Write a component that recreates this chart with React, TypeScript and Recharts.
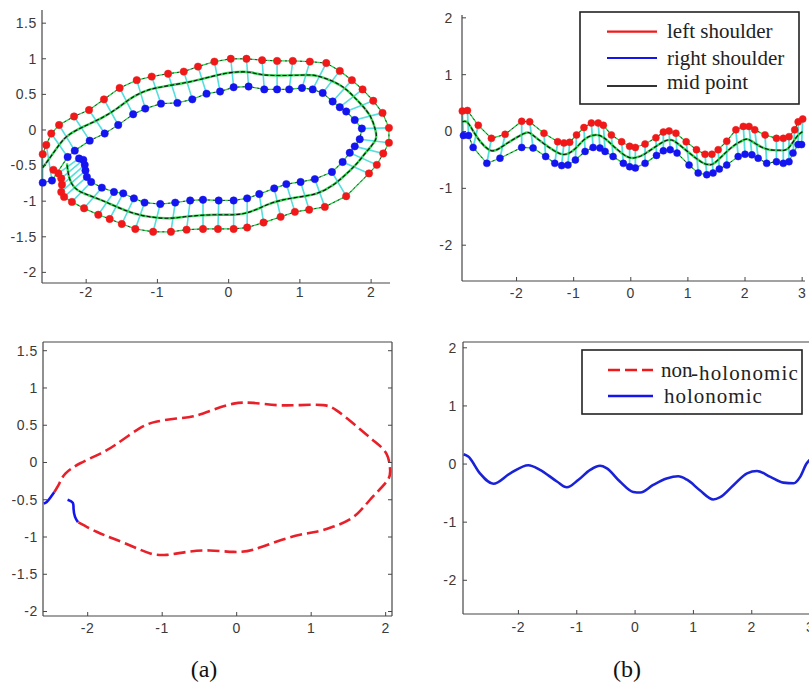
import React from 'react';
import { ComposedChart, Line, XAxis, YAxis, Legend } from 'recharts';

type Pt = [number, number];
type Row = { x: number; y: number | null };

// ---------- (a) top: shoulder trajectories (closed loop) ----------
const aLeftShoulder: Pt[] = [
  [-2.61, -0.34], [-2.56, -0.21], [-2.49, -0.05], [-2.38, 0.07], [-2.17, 0.19], [-1.96, 0.28],
  [-1.75, 0.43], [-1.53, 0.59], [-1.29, 0.7], [-1.08, 0.75], [-0.85, 0.79], [-0.63, 0.82],
  [-0.43, 0.89], [-0.2, 0.96], [0.03, 1.0], [0.25, 1.0], [0.47, 0.98], [0.68, 0.97],
  [0.9, 0.97], [1.14, 0.96], [1.37, 0.94], [1.56, 0.83], [1.73, 0.7], [1.88, 0.57],
  [2.03, 0.41], [2.16, 0.24], [2.25, 0.03], [2.25, -0.18], [2.17, -0.33], [2.08, -0.49],
  [1.97, -0.61], [1.65, -0.93], [1.35, -1.08], [1.13, -1.12], [0.93, -1.15], [0.73, -1.22],
  [0.49, -1.3], [0.26, -1.37], [0.07, -1.39], [-0.15, -1.39], [-0.36, -1.39], [-0.59, -1.4],
  [-0.81, -1.43], [-1.06, -1.43], [-1.31, -1.39], [-1.5, -1.32], [-1.67, -1.25], [-1.83, -1.19],
  [-2.03, -1.1], [-2.2, -1.01], [-2.31, -0.94], [-2.35, -0.87], [-2.34, -0.77], [-2.35, -0.68],
  [-2.39, -0.61], [-2.46, -0.56],
];
const aRightShoulder: Pt[] = [
  [-2.61, -0.74], [-2.48, -0.71], [-2.26, -0.38], [-2.16, -0.29], [-1.95, -0.15], [-1.74, -0.05],
  [-1.55, 0.07], [-1.34, 0.22], [-1.17, 0.3], [-0.95, 0.37], [-0.72, 0.38], [-0.51, 0.43],
  [-0.31, 0.51], [-0.12, 0.54], [0.07, 0.6], [0.28, 0.61], [0.5, 0.57], [0.68, 0.57],
  [0.85, 0.57], [1.03, 0.59], [1.18, 0.57], [1.32, 0.52], [1.46, 0.4], [1.56, 0.32],
  [1.65, 0.26], [1.77, 0.14], [1.87, 0.02], [1.84, -0.13], [1.77, -0.23], [1.7, -0.32],
  [1.6, -0.45], [1.45, -0.59], [1.21, -0.69], [1.01, -0.73], [0.81, -0.76], [0.64, -0.82],
  [0.43, -0.9], [0.26, -0.96], [0.07, -0.99], [-0.14, -0.99], [-0.36, -0.98], [-0.54, -0.99],
  [-0.75, -1.02], [-0.96, -1.04], [-1.18, -1.02], [-1.33, -0.96], [-1.48, -0.89], [-1.61, -0.87],
  [-1.78, -0.81], [-1.93, -0.73], [-1.99, -0.66], [-2.01, -0.57], [-2.02, -0.49], [-2.04, -0.42],
  [-2.1, -0.4],
];
const aMidPoint: Pt[] = [
  [-2.61, -0.53], [-2.43, -0.28], [-2.27, -0.09], [-2.03, 0.05], [-1.8, 0.16], [-1.57, 0.3],
  [-1.33, 0.47], [-1.1, 0.57], [-0.86, 0.62], [-0.63, 0.66], [-0.4, 0.71], [-0.16, 0.77],
  [0.07, 0.81], [0.3, 0.81], [0.54, 0.77], [1.0, 0.77], [1.24, 0.76], [1.47, 0.68],
  [1.66, 0.56], [1.85, 0.37], [1.99, 0.19], [2.06, 0.0], [2.06, -0.14], [1.94, -0.3],
  [1.8, -0.47], [1.66, -0.61], [1.47, -0.77], [1.24, -0.89], [1.0, -0.94], [0.77, -0.98],
  [0.54, -1.05], [0.3, -1.15], [0.07, -1.19], [-0.16, -1.19], [-0.4, -1.2], [-0.63, -1.22],
  [-0.86, -1.24], [-1.1, -1.22], [-1.33, -1.17], [-1.57, -1.08], [-1.8, -0.98], [-2.03, -0.89],
  [-2.17, -0.8], [-2.24, -0.66], [-2.27, -0.47],
];

// ---------- (b) top: shoulder trajectories (wavy path) ----------
const bLeftShoulder: Pt[] = [
  [-2.95, 0.36], [-2.86, 0.37], [-2.67, 0.11], [-2.44, -0.12], [-2.2, -0.05], [-1.91, 0.18],
  [-1.77, 0.17], [-1.52, -0.03], [-1.28, -0.18], [-1.17, -0.2], [-1.07, -0.19], [-0.95, -0.06],
  [-0.82, 0.07], [-0.69, 0.15], [-0.57, 0.15], [-0.48, 0.11], [-0.34, -0.06], [-0.16, -0.18],
  [-0.02, -0.26], [0.08, -0.28], [0.25, -0.22], [0.44, -0.11], [0.57, -0.01], [0.67, 0.01],
  [0.79, -0.03], [0.97, -0.18], [1.15, -0.32], [1.3, -0.4], [1.42, -0.4], [1.53, -0.32],
  [1.68, -0.17], [1.84, 0.03], [1.97, 0.09], [2.07, 0.09], [2.17, 0.03], [2.35, -0.06],
  [2.55, -0.12], [2.67, -0.12], [2.77, -0.09], [2.87, 0.03], [2.93, 0.17], [3.01, 0.22],
];
const bRightShoulder: Pt[] = [
  [-2.93, -0.07], [-2.84, -0.07], [-2.76, -0.28], [-2.52, -0.56], [-2.29, -0.47], [-1.91, -0.28],
  [-1.71, -0.29], [-1.49, -0.44], [-1.33, -0.56], [-1.21, -0.6], [-1.1, -0.59], [-0.97, -0.5],
  [-0.8, -0.35], [-0.66, -0.28], [-0.54, -0.29], [-0.45, -0.35], [-0.31, -0.44], [-0.13, -0.56],
  [-0.02, -0.62], [0.08, -0.64], [0.25, -0.56], [0.45, -0.42], [0.57, -0.34], [0.69, -0.32],
  [0.81, -0.38], [1.02, -0.59], [1.18, -0.73], [1.33, -0.76], [1.44, -0.73], [1.55, -0.66],
  [1.68, -0.59], [1.88, -0.44], [2.0, -0.4], [2.12, -0.41], [2.23, -0.47], [2.38, -0.56],
  [2.55, -0.53], [2.67, -0.56], [2.77, -0.53], [2.84, -0.38], [2.93, -0.23], [2.99, -0.23],
];
const bMidPoint: Pt[] = [
  [-2.95, 0.17], [-2.85, 0.15], [-2.69, -0.1], [-2.46, -0.33], [-2.23, -0.25], [-1.88, -0.04],
  [-1.72, -0.06], [-1.5, -0.23], [-1.24, -0.39], [-1.08, -0.38], [-0.95, -0.28], [-0.8, -0.13],
  [-0.62, -0.06], [-0.47, -0.11], [-0.3, -0.26], [-0.07, -0.44], [0.08, -0.46], [0.25, -0.39],
  [0.57, -0.18], [0.7, -0.15], [0.82, -0.21], [1.21, -0.52], [1.37, -0.58], [1.47, -0.55],
  [1.74, -0.3], [1.97, -0.15], [2.1, -0.16], [2.35, -0.3], [2.6, -0.33], [2.75, -0.3],
  [2.9, -0.1], [3.01, 0.0],
];

// ---------- (a) bottom: holonomic / non-holonomic segments ----------
const cHoloStart: Pt[] = [[-2.59, -0.55], [-2.55, -0.53], [-2.5, -0.47], [-2.45, -0.4]];
const cNonHolo: Pt[] = [
  [-2.45, -0.4], [-2.38, -0.28], [-2.3, -0.15], [-2.1, -0.01], [-1.83, 0.12], [-1.61, 0.25],
  [-1.3, 0.46], [-1.07, 0.55], [-0.81, 0.59], [-0.58, 0.62], [-0.31, 0.71], [-0.04, 0.79],
  [0.22, 0.8], [0.54, 0.77], [0.85, 0.77], [1.16, 0.77], [1.34, 0.7], [1.57, 0.52],
  [1.83, 0.3], [2.01, 0.12], [2.06, -0.1], [2.01, -0.26], [1.79, -0.5], [1.57, -0.73],
  [1.3, -0.86], [1.07, -0.93], [0.85, -0.97], [0.54, -1.06], [0.22, -1.17], [-0.04, -1.2],
  [-0.36, -1.18], [-0.67, -1.2], [-0.94, -1.24], [-1.16, -1.22], [-1.39, -1.13], [-1.66, -1.02],
  [-1.88, -0.93], [-2.13, -0.8],
];
const cHoloEnd: Pt[] = [[-2.13, -0.8], [-2.17, -0.73], [-2.19, -0.62], [-2.2, -0.54], [-2.27, -0.5]];

// ---------- (b) bottom: holonomic path ----------
const dHolo: Pt[] = [
  [-2.94, 0.17], [-2.86, 0.13], [-2.66, -0.16], [-2.43, -0.34], [-2.14, -0.16], [-1.83, -0.02],
  [-1.63, -0.1], [-1.34, -0.3], [-1.17, -0.4], [-0.97, -0.27], [-0.77, -0.1], [-0.6, -0.03],
  [-0.49, -0.07], [-0.26, -0.3], [-0.03, -0.48], [0.09, -0.49], [0.31, -0.36], [0.54, -0.25],
  [0.74, -0.21], [0.89, -0.27], [1.11, -0.45], [1.34, -0.61], [1.46, -0.57], [1.69, -0.36],
  [1.92, -0.16], [2.09, -0.12], [2.32, -0.22], [2.54, -0.32], [2.72, -0.33], [2.83, -0.22],
  [2.94, 0.01], [3.0, 0.08],
];

// ---------- ticks, labels ----------
const aTicksX = [-2, -1, 0, 1, 2];
const aTicksY = [-2, -1.5, -1, -0.5, 0, 0.5, 1, 1.5];
const bTicksX = [-2, -1, 0, 1, 2, 3];
const bTicksY = [-2, -1, 0, 1, 2];
const legendTopLabels = ['left shoulder', 'right shoulder', 'mid point'];
const legendBottomLabels = ['non-holonomic', 'holonomic'];
const captions = ['(a)', '(b)'];

// ---------- styles ----------
const SERIF = '"Liberation Serif", "Times New Roman", Times, serif';
const SANS = '"Liberation Sans", Arial, Helvetica, sans-serif';
const AXIS = '#464646';
const TICK_TEXT = '#3a3a3a';
const TICK = 4;
const RED = '#f01818';
const BLUE = '#1414f0';
const GREEN = '#2fd04f';
const CYAN = '#55dede';
const axisLine = { stroke: AXIS, strokeWidth: 1.2 };

const toRows = (pts: Pt[]): Row[] => pts.map(([x, y]) => ({ x, y }));
const toConnectors = (a: Pt[], b: Pt[]): Row[] => {
  const rows: Row[] = [];
  const n = Math.min(a.length, b.length);
  for (let i = 0; i < n; i++) {
    rows.push({ x: a[i][0], y: a[i][1] }, { x: b[i][0], y: b[i][1] }, { x: b[i][0], y: null });
  }
  return rows;
};

const base = {
  dataKey: 'y',
  isAnimationActive: false,
  activeDot: false,
  legendType: 'none' as const,
  connectNulls: false,
};

const leftTick = (margin: number) => (p: any) => {
  const ax = p.x + margin;
  return (
    <g>
      <line x1={ax} x2={ax + TICK} y1={p.y} y2={p.y} stroke={AXIS} strokeWidth={1} />
      <text x={p.x} y={p.y} dy="0.35em" textAnchor="end" fontFamily={SANS} fontSize={14}
        letterSpacing={0.6} fill={TICK_TEXT}>{String(p.payload.value)}</text>
    </g>
  );
};
const bottomTick = (margin: number) => (p: any) => {
  const ay = p.y - margin;
  return (
    <g>
      <line x1={p.x} x2={p.x} y1={ay} y2={ay - TICK} stroke={AXIS} strokeWidth={1} />
      <text x={p.x} y={p.y} dy="0.71em" textAnchor="middle" fontFamily={SANS} fontSize={14}
        letterSpacing={0.6} fill={TICK_TEXT}>{String(p.payload.value)}</text>
    </g>
  );
};
// frame axes have height/width 1: their line sits on the plot edge
const topTick = (p: any) => (
  <line x1={p.x} x2={p.x} y1={p.y} y2={p.y + TICK} stroke={AXIS} strokeWidth={1} />
);
const rightTick = (p: any) => (
  <line x1={p.x} x2={p.x - TICK} y1={p.y} y2={p.y} stroke={AXIS} strokeWidth={1} />
);

const shoulderPath = (id: string, pts: Pt[]) => {
  const rows = toRows(pts);
  return [
    <Line key={id + '-g'} {...base} data={rows} type="linear" stroke={GREEN} strokeWidth={1.3} dot={false} />,
    <Line key={id + '-k'} {...base} data={rows} type="linear" stroke="#222" strokeWidth={0.8}
      strokeDasharray="2 3" dot={false} />,
  ];
};
const shoulderDots = (id: string, pts: Pt[], color: string, r: number) => (
  <Line key={id + '-d'} {...base} data={toRows(pts)} type="linear" stroke="none"
    dot={{ r, fill: color, stroke: color, strokeWidth: 0.5 }} />
);
const midPath = (id: string, pts: Pt[]) => {
  const rows = toRows(pts);
  return [
    <Line key={id + '-mg'} {...base} data={rows} type="natural" stroke={GREEN} strokeWidth={2.4} dot={false} />,
    <Line key={id + '-mk'} {...base} data={rows} type="natural" stroke="#111" strokeWidth={1.1}
      strokeDasharray="4 2" dot={false} />,
  ];
};

const TopLegend = () => {
  const colors = [RED, BLUE, '#333'];
  const lineY = [20.7, 47, 75];
  const textY = [27, 53.5, 77.5];
  return (
    <svg width={222} height={95} style={{ display: 'block' }}>
      <rect x={1} y={1} width={219} height={92} fill="#fff" stroke="#222" strokeWidth={1.6} />
      {legendTopLabels.map((label, i) => (
        <g key={label}>
          <line x1={28} x2={78} y1={lineY[i]} y2={lineY[i]} stroke={colors[i]} strokeWidth={2.2} />
          <text x={88} y={textY[i]} fontFamily={SERIF} fontSize={21} fill="#222">{label}</text>
        </g>
      ))}
    </svg>
  );
};

const BottomLegend = () => {
  const [nonHolo, holo] = legendBottomLabels;
  const head = nonHolo.slice(0, 3);
  const tail = nonHolo.slice(3);
  return (
    <svg width={224} height={67} style={{ display: 'block' }}>
      <rect x={1} y={1} width={220} height={64} fill="#fff" stroke="#222" strokeWidth={1.6} />
      <line x1={27} x2={72} y1={21} y2={21} stroke={RED} strokeWidth={2.4} strokeDasharray="12 5" />
      <text x={80} y={28} fontFamily={SERIF} fontSize={21} fill="#222">{head}</text>
      <text x={110} y={31} fontFamily={SERIF} fontSize={21} letterSpacing={1.1} fill="#222">{tail}</text>
      <line x1={27} x2={72} y1={47} y2={47} stroke={BLUE} strokeWidth={2.4} />
      <text x={83} y={54} fontFamily={SERIF} fontSize={21} letterSpacing={1.0} fill="#222">{holo}</text>
    </svg>
  );
};

export default function App() {
  const connA = toConnectors(aLeftShoulder, aRightShoulder);
  const connB = toConnectors(bLeftShoulder, bRightShoulder);

  return (
    <div style={{ position: 'absolute', left: 0, top: 0, width: 809, height: 686, overflow: 'hidden', background: '#fff' }}>
      {/* (a) top */}
      <div style={{ position: 'absolute', left: 0, top: 0 }}>
        <ComposedChart width={400} height={300} margin={{ top: 10, right: 10, bottom: 0, left: 0 }}>
          <XAxis type="number" dataKey="x" domain={[-2.62, 2.265]} ticks={aTicksX} interval={0} height={17}
            tickSize={0} tickMargin={4} tickLine={false} axisLine={axisLine} tick={bottomTick(4)} />
          <YAxis type="number" domain={[-2.149, 1.685]} ticks={aTicksY} interval={0} width={42}
            tickSize={0} tickMargin={5} tickLine={false} axisLine={axisLine} tick={leftTick(5)} />
          <Line {...base} data={connA} type="linear" stroke={CYAN} strokeWidth={1.6} dot={false} />
          {midPath('am', aMidPoint)}
          {shoulderPath('al', aLeftShoulder)}
          {shoulderPath('ar', aRightShoulder)}
          {shoulderDots('al', aLeftShoulder, RED, 3.7)}
          {shoulderDots('ar', aRightShoulder, BLUE, 3.7)}
        </ComposedChart>
      </div>

      {/* (b) top */}
      <div style={{ position: 'absolute', left: 400, top: 0 }}>
        <ComposedChart width={409} height={300} margin={{ top: 15, right: 4, bottom: 0, left: 0 }}>
          <XAxis type="number" dataKey="x" domain={[-2.955, 3.05]} ticks={bTicksX} interval={0} height={19}
            tickSize={0} tickMargin={7} tickLine={false} axisLine={axisLine} tick={bottomTick(7)} />
          <YAxis type="number" domain={[-2.63, 2.05]} ticks={bTicksY} interval={0} width={62}
            tickSize={0} tickMargin={9} tickLine={false} axisLine={axisLine} tick={leftTick(9)} />
          <Line {...base} data={connB} type="linear" stroke={CYAN} strokeWidth={1.8} dot={false} />
          {midPath('bm', bMidPoint)}
          {shoulderPath('bl', bLeftShoulder)}
          {shoulderPath('br', bRightShoulder)}
          {shoulderDots('bl', bLeftShoulder, RED, 3.5)}
          {shoulderDots('br', bRightShoulder, BLUE, 3.5)}
          <Legend layout="vertical" align="center" verticalAlign="middle"
            wrapperStyle={{ position: 'absolute', left: 179, top: 11, width: 222, height: 95 }}
            content={() => <TopLegend />} />
        </ComposedChart>
      </div>

      {/* (a) bottom */}
      <div style={{ position: 'absolute', left: 0, top: 330 }}>
        <ComposedChart width={400} height={310} margin={{ top: 11, right: 7, bottom: 0, left: 0 }}>
          <XAxis type="number" dataKey="x" domain={[-2.6, 2.085]} ticks={aTicksX} interval={0} height={24}
            tickSize={0} tickMargin={7} tickLine={false} axisLine={axisLine} tick={bottomTick(7)} />
          <XAxis xAxisId="top" orientation="top" type="number" domain={[-2.6, 2.085]} allowDataOverflow
            ticks={aTicksX} interval={0} height={1} tickSize={0} tickMargin={0} tickLine={false}
            axisLine={axisLine} tick={topTick} />
          <YAxis type="number" domain={[-2.06, 1.617]} ticks={aTicksY} interval={0} width={43}
            tickSize={0} tickMargin={5} tickLine={false} axisLine={axisLine} tick={leftTick(5)} />
          <YAxis yAxisId="right" orientation="right" type="number" domain={[-2.06, 1.617]} allowDataOverflow
            ticks={aTicksY} interval={0} width={1} tickSize={0} tickMargin={0} tickLine={false}
            axisLine={axisLine} tick={rightTick} />
          <Line {...base} data={toRows(cNonHolo)} type="natural" stroke="#e8202a" strokeWidth={2.6}
            strokeDasharray="12 5" dot={false} />
          <Line {...base} data={toRows(cHoloStart)} type="natural" stroke={BLUE} strokeWidth={2.6} dot={false} />
          <Line {...base} data={toRows(cHoloEnd)} type="natural" stroke={BLUE} strokeWidth={2.6} dot={false} />
        </ComposedChart>
      </div>

      {/* (b) bottom */}
      <div style={{ position: 'absolute', left: 400, top: 330 }}>
        <ComposedChart width={420} height={310} margin={{ top: 11, right: 6, bottom: 0, left: 0 }}>
          <XAxis type="number" dataKey="x" domain={[-2.95, 3.05]} ticks={bTicksX} interval={0} height={26}
            tickSize={0} tickMargin={8} tickLine={false} axisLine={axisLine} tick={bottomTick(8)} />
          <XAxis xAxisId="top" orientation="top" type="number" domain={[-2.95, 3.05]} allowDataOverflow
            ticks={bTicksX} interval={0} height={1} tickSize={0} tickMargin={0} tickLine={false}
            axisLine={axisLine} tick={topTick} />
          <YAxis type="number" domain={[-2.58, 2.1]} ticks={bTicksY} interval={0} width={63}
            tickSize={0} tickMargin={6} tickLine={false} axisLine={axisLine} tick={leftTick(6)} />
          <YAxis yAxisId="right" orientation="right" type="number" domain={[-2.58, 2.1]} allowDataOverflow
            ticks={bTicksY} interval={0} width={1} tickSize={0} tickMargin={0} tickLine={false}
            axisLine={axisLine} tick={rightTick} />
          <Line {...base} data={toRows(dHolo)} type="monotone" stroke="#1a22d8" strokeWidth={2.6} dot={false} />
          <Legend layout="vertical" align="center" verticalAlign="middle"
            wrapperStyle={{ position: 'absolute', left: 181, top: 19, width: 224, height: 67 }}
            content={() => <BottomLegend />} />
        </ComposedChart>
      </div>

      {/* captions */}
      <svg width={809} height={686} style={{ position: 'absolute', left: 0, top: 0, pointerEvents: 'none' }}>
        <text x={204} y={677} textAnchor="middle" fontFamily={SERIF} fontSize={24} fill="#111">{captions[0]}</text>
        <text x={627} y={677} textAnchor="middle" fontFamily={SERIF} fontSize={24} fill="#111">{captions[1]}</text>
      </svg>
    </div>
  );
}
